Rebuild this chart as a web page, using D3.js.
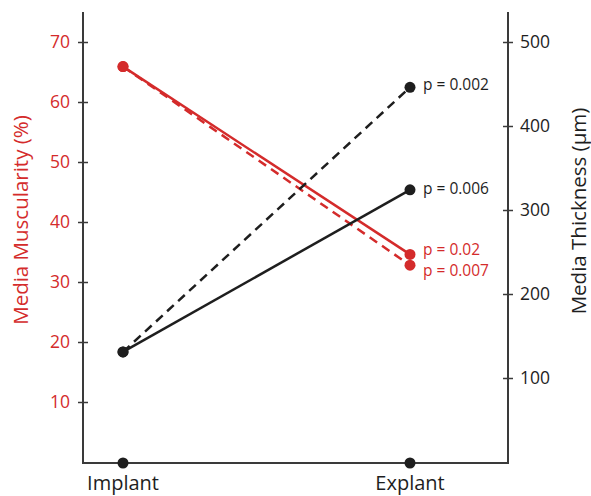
<!DOCTYPE html>
<html>
<head>
<meta charset="utf-8">
<script src="https://cdn.jsdelivr.net/npm/d3@7"></script>
<style>
  body { margin: 0; background: #fff; }
  text { font-family: "Open Sans", "Noto Sans", sans-serif; }
</style>
</head>
<body>
<script>
// data
var categories = ["Implant", "Explant"];
var muscTicks = [10, 20, 30, 40, 50, 60, 70];
var thickTicks = [100, 200, 300, 400, 500];

// media muscularity (%), left axis
var muscSolid = [65.9, 34.6];
var muscDashed = [65.9, 32.8];
// media thickness (um), right axis
var thickSolid = [131, 324];
var thickDashed = [131, 446];

var pLabels = [
  { text: "p = 0.002", axis: "right", value: 446, dy: -3, color: "#1e1e1e" },
  { text: "p = 0.006", axis: "right", value: 324, dy: -1, color: "#1e1e1e" },
  { text: "p = 0.02", axis: "left", value: 34.6, dy: -5, color: "#d42b2b" },
  { text: "p = 0.007", axis: "left", value: 32.8, dy: 5, color: "#d42b2b" }
];

(() => {
  var w = 591, h = 496;
  var red = "#d42b2b", dark = "#1e1e1e", axisCol = "#3a3a3a";

  var svg = d3.select("body").append("svg")
    .attr("width", w).attr("height", h);

  var left = 83, right = 508, top = 12, bottom = 463;

  var x = d3.scalePoint().domain(categories).range([123, 410]);
  var yL = d3.scaleLinear().domain([0, 75]).range([462, top]);
  var yR = d3.scaleLinear().domain([0, 500 * 75 / 70]).range([462, top]);

  // frame: left axis, bottom line, right axis
  svg.append("path")
    .attr("d", "M" + [left, top] + "V" + bottom + "H" + right + "V" + top)
    .attr("fill", "none").attr("stroke", axisCol).attr("stroke-width", 2);

  var yAxisL = d3.axisLeft(yL).tickValues(muscTicks).tickSizeInner(0).tickSizeOuter(0).tickPadding(13);
  var gL = svg.append("g").attr("transform", "translate(" + left + ",0)").call(yAxisL);
  gL.select(".domain").remove();
  gL.selectAll(".tick line").attr("x1", -5).attr("x2", 5).attr("stroke", axisCol).attr("stroke-width", 1.5);
  gL.selectAll(".tick text").attr("fill", red).style("font-size", "17.5px");

  var yAxisR = d3.axisRight(yR).tickValues(thickTicks).tickSizeInner(0).tickSizeOuter(0).tickPadding(12);
  var gR = svg.append("g").attr("transform", "translate(" + right + ",0)").call(yAxisR);
  gR.select(".domain").remove();
  gR.selectAll(".tick line").attr("x1", -5).attr("x2", 5).attr("stroke", axisCol).attr("stroke-width", 1.5);
  gR.selectAll(".tick text").attr("fill", dark).style("font-size", "17.5px");

  // category labels
  svg.selectAll(".cat").data(categories).enter().append("text")
    .attr("class", "cat")
    .attr("x", d => x(d)).attr("y", 490)
    .attr("text-anchor", "middle")
    .attr("fill", dark).style("font-size", "20px")
    .text(d => d);

  svg.selectAll(".catdot").data(categories).enter().append("circle")
    .attr("cx", d => x(d)).attr("cy", bottom).attr("r", 5.5).attr("fill", dark);

  // axis titles
  svg.append("text")
    .attr("transform", "translate(28,220)rotate(-90)")
    .attr("text-anchor", "middle").attr("fill", red).style("font-size", "20.5px")
    .text("Media Muscularity (%)");
  svg.append("text")
    .attr("transform", "translate(586,211)rotate(-90)")
    .attr("text-anchor", "middle").attr("fill", dark).style("font-size", "20.5px")
    .text("Media Thickness (µm)");

  var series = [
    { vals: muscDashed, y: yL, color: red, dash: "9,6" },
    { vals: muscSolid, y: yL, color: red, dash: null },
    { vals: thickDashed, y: yR, color: dark, dash: "9,6" },
    { vals: thickSolid, y: yR, color: dark, dash: null }
  ];

  series.forEach(s => {
    var line = d3.line().x((d, i) => x(categories[i])).y(d => s.y(d));
    svg.append("path")
      .attr("d", line(s.vals))
      .attr("fill", "none").attr("stroke", s.color).attr("stroke-width", 2.5)
      .attr("stroke-dasharray", s.dash);
    svg.selectAll(null).data(s.vals).enter().append("circle")
      .attr("cx", (d, i) => x(categories[i])).attr("cy", d => s.y(d))
      .attr("r", 5.5).attr("fill", s.color);
  });

  svg.selectAll(".plab").data(pLabels).enter().append("text")
    .attr("class", "plab")
    .attr("x", x("Explant") + 13)
    .attr("y", d => (d.axis === "left" ? yL(d.value) : yR(d.value)) + d.dy)
    .attr("dy", "0.35em")
    .attr("fill", d => d.color).style("font-size", "15.5px")
    .text(d => d.text);
})();
</script>
</body>
</html>
